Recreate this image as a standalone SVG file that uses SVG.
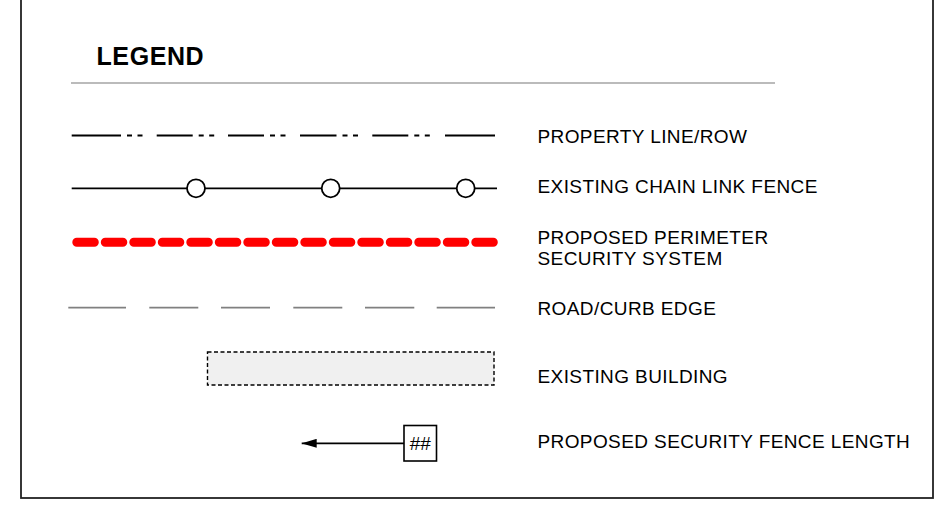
<svg xmlns="http://www.w3.org/2000/svg" width="934" height="508" viewBox="0 0 934 508">
<style>
  .lbl { font-family: "Liberation Sans", Arial, sans-serif; font-size: 19px; letter-spacing: 0.4px; fill: #000; }
  .title { font-family: "Liberation Sans", Arial, sans-serif; font-size: 25px; font-weight: bold; letter-spacing: 0.6px; fill: #000; }
  .blk { stroke: #000; stroke-width: 1.8; fill: none; }
  .road { stroke: #808080; stroke-width: 1.8; fill: none; }
</style>
<defs>
  <marker id="arrowHead" markerWidth="15" markerHeight="9" refX="0" refY="4.5" orient="auto" markerUnits="userSpaceOnUse">
    <polygon points="15,0 0,4.5 15,9" fill="#000"/>
  </marker>
</defs>
<rect id="frame" x="21" y="-20" width="912" height="518" fill="#fff" stroke="#222" stroke-width="1.8"/>
<g id="legend-title">
  <text class="title" x="96.5" y="65">LEGEND</text>
  <line x1="71" y1="83" x2="775" y2="83" stroke="#bbb" stroke-width="2"/>
</g>
<g id="property-line">
  <path class="blk" d="M71.7 135.5H121 M127 135.5H132 M137.5 135.5H142.5 M156.7 135.5H192.7 M198.7 135.5H203.7 M209.2 135.5H214.2 M228 135.5H264 M270 135.5H275 M280.5 135.5H285.5 M300 135.5H336.5 M342.5 135.5H347.5 M353 135.5H358 M372.3 135.5H408.3 M414.3 135.5H419.3 M424.8 135.5H429.8 M445 135.5H495"/>
  <text class="lbl" x="537.5" y="143">PROPERTY LINE/ROW</text>
</g>
<g id="chain-link-fence">
  <line class="blk" x1="71.7" y1="188.3" x2="497" y2="188.3"/>
  <circle cx="196" cy="188.3" r="9" fill="#fff" stroke="#000" stroke-width="1.8"/>
  <circle cx="330.7" cy="188.3" r="9" fill="#fff" stroke="#000" stroke-width="1.8"/>
  <circle cx="465.7" cy="188.3" r="9" fill="#fff" stroke="#000" stroke-width="1.8"/>
  <text class="lbl" x="537.5" y="193.3">EXISTING CHAIN LINK FENCE</text>
</g>
<g id="perimeter-security">
  <line x1="76.8" y1="242.3" x2="493.3" y2="242.3" stroke="#ff0000" stroke-width="9" stroke-linecap="round" stroke-dasharray="17.5 11"/>
  <text class="lbl" x="537.5" y="244">PROPOSED PERIMETER</text>
  <text class="lbl" x="537.5" y="265">SECURITY SYSTEM</text>
</g>
<g id="road-curb-edge">
  <path class="road" d="M68.3 307.7H126 M149.3 307.7H198.3 M221 307.7H270 M293.3 307.7H342.3 M365 307.7H414.3 M436.7 307.7H495"/>
  <text class="lbl" x="537.5" y="315">ROAD/CURB EDGE</text>
</g>
<g id="existing-building">
  <rect x="207.5" y="352" width="286.5" height="33" fill="#f0f0f0" stroke="#000" stroke-width="1.4" stroke-dasharray="4 2.5"/>
  <text class="lbl" x="537.5" y="382.5">EXISTING BUILDING</text>
</g>
<g id="fence-length">
  <rect x="404" y="425.5" width="32.5" height="35.5" fill="#fff" stroke="#000" stroke-width="1.6"/>
  <text class="lbl" x="420.3" y="450" text-anchor="middle" style="letter-spacing:0">##</text>
  <text class="lbl" x="537.5" y="447.5">PROPOSED SECURITY FENCE LENGTH</text>
</g>
<g id="connectors">
  <line x1="301.7" y1="443.3" x2="404" y2="443.3" stroke="#000" stroke-width="1.7" marker-start="url(#arrowHead)"/>
</g>
</svg>
